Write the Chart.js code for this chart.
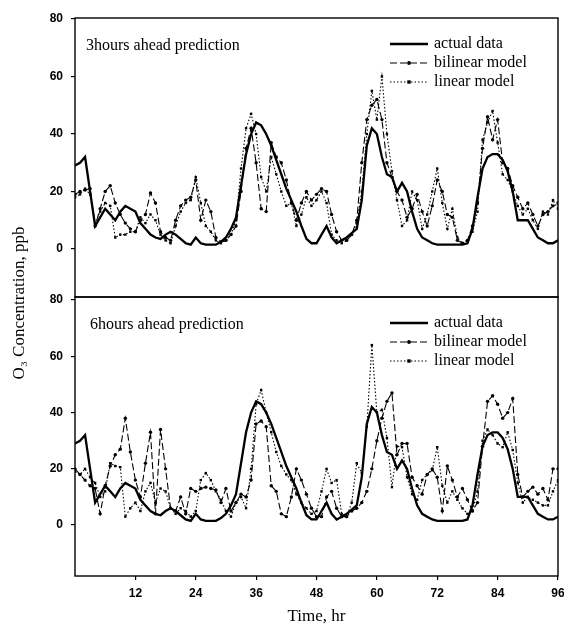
<!DOCTYPE html>
<html>
<head>
<meta charset="utf-8">
<script src="https://cdn.jsdelivr.net/npm/chart.js@4.4.1/dist/chart.umd.min.js"></script>
<style>
  html, body { margin: 0; padding: 0; background: #fff; }
</style>
</head>
<body>
<canvas id="ozone" width="564" height="633"></canvas>
<script>
// hourly x positions, 0..96 h
const hours = Array.from({ length: 97 }, (_, i) => i);
const xTicks = [12, 24, 36, 48, 60, 72, 84, 96];
const yTicks = [0, 20, 40, 60, 80];

const seriesNames = ["actual data", "bilinear model", "linear model"];
const panelTitles = ["3hours ahead prediction", "6hours ahead prediction"];

const actual = [
  29, 30, 32, 20, 8, 11, 14, 12, 10, 13,
  15, 14, 13, 9, 7, 5, 4, 3.5, 5, 6,
  5, 3.5, 2, 1.5, 4, 2, 1.5, 1.5, 1.5, 2.5,
  4, 7, 11, 22, 33, 40, 44, 43, 40, 36,
  31, 26, 21, 17, 13, 8, 3.5, 2, 2, 5,
  8, 4, 2, 3, 4, 5.5, 7, 17, 36, 42,
  40, 32, 26, 25, 20, 23, 20, 13, 7, 4,
  3, 2, 1.5, 1.5, 1.5, 1.5, 1.5, 1.5, 2, 7,
  18, 28, 32, 33, 33, 31, 27, 20, 10, 10,
  10, 7, 4, 3, 2, 2, 3
];

// 3 hours ahead
const bilinear3h = [
  19, 20, 20.5, 21, 8, 14, 20, 22, 16, 12,
  9, 7, 6, 10, 12, 19.5, 16, 6, 4, 3,
  10, 15, 17, 18, 24, 10, 17, 13, 4, 2.5,
  3, 5, 8, 20, 35, 42, 30, 14, 13, 37,
  32, 30, 24, 16, 10, 16, 20, 17, 19, 21,
  20, 12, 6, 3, 3, 5, 10, 30, 45, 50,
  52, 45, 30, 25, 20, 17, 11, 14, 19, 13,
  8, 15, 24, 20, 12, 11, 3, 2, 3, 8,
  16, 35, 46, 38, 45, 30, 28, 22, 18, 14,
  16, 12, 8, 12, 13, 15, 16
];
const linear3h = [
  18, 19, 21, 19, 9, 13, 16, 15, 4, 5,
  5, 6, 6, 11, 9, 12, 10, 5, 3, 2,
  8, 13, 16, 17, 25, 16, 8, 6, 3, 2,
  3, 5, 10, 28, 42, 47, 40, 25, 20, 32,
  26, 20, 15, 16, 8, 12, 18, 15, 17, 20,
  16, 5, 3, 2, 3, 5, 9, 20, 40, 55,
  45, 60, 40, 27, 17, 8, 10, 20, 17, 7,
  12, 20, 28, 16, 7, 14, 4, 2, 3, 6,
  13, 38, 44, 48, 37, 26, 24, 20, 15, 12,
  14, 10, 7, 13, 12, 17, 14
];

// 6 hours ahead
const bilinear6h = [
  20, 18, 16, 14, 13, 4, 14, 21, 25, 27,
  38, 26, 16, 10, 22, 33, 4, 34, 20, 6,
  5, 10, 4, 13, 12, 13, 13.5, 13, 12.5, 8,
  13, 5, 8, 11, 10, 16, 36, 37, 35, 14,
  12, 4, 3, 10, 20, 16, 11, 6, 3, 3,
  10, 12, 6, 3, 3, 5, 6, 8, 12, 20,
  30, 38, 44, 47, 25, 29, 29, 17, 14, 11,
  18, 20, 17, 5, 21, 16, 10, 13, 9, 5,
  8, 28, 44, 46, 43, 38, 40, 45, 18, 10,
  12, 13.5, 11, 13, 9, 20, 20
];
const linear6h = [
  19, 18, 20, 17, 15, 10, 12, 22, 21, 20.6,
  3, 6, 8, 5, 12, 15, 8, 13, 12, 6,
  4, 6, 5, 3, 5, 16, 18.5, 16, 12, 9,
  5, 3, 8, 10, 6, 20, 43, 48, 40, 33,
  26, 21, 18, 16, 11, 8, 6, 4, 5, 12,
  20, 15, 16, 4, 3, 8, 22, 18.5, 35, 64,
  40, 41, 31, 13.5, 28, 27.7, 17, 11, 9, 16,
  18, 19.5, 27.7, 14, 8, 12, 9, 6, 4, 5,
  12, 30, 34, 32, 29, 27.7, 33, 26.7, 15, 8,
  10, 9, 8, 7, 7, 12, 16
];

const styles = [
  { borderWidth: 2.3, borderDash: [], pointRadius: 0, pointStyle: "circle" },
  { borderWidth: 1.1, borderDash: [7, 3], pointRadius: 1.7, pointStyle: "circle" },
  { borderWidth: 1.1, borderDash: [1.5, 2], pointRadius: 1.7, pointStyle: "rect" }
];

function makeSet(values, idx, axis) {
  let st = styles[idx];
  return {
    label: seriesNames[idx],
    data: values,
    yAxisID: axis,
    borderColor: "#000",
    backgroundColor: "#000",
    pointBackgroundColor: "#000",
    pointBorderWidth: 0,
    borderWidth: st.borderWidth,
    borderDash: st.borderDash,
    pointRadius: st.pointRadius,
    pointStyle: st.pointStyle,
    tension: 0
  };
}

const tickFont = { family: "Liberation Sans", size: 12, weight: "bold" };

function yAxis(min, max) {
  return {
    type: "linear",
    position: "left",
    stack: "panels",
    stackWeight: 1,
    min: min,
    max: max,
    afterBuildTicks: (s) => { s.ticks = yTicks.map(v => ({ value: v })); },
    afterFit: (s) => { s.width = 45; },
    grid: { drawOnChartArea: false, tickLength: 4, color: "#000", lineWidth: 1.2 },
    border: { display: false },
    ticks: { color: "#000", font: tickFont, padding: 8 }
  };
}

function drawSample(ctx, x0, x1, y, idx) {
  let st = styles[idx];
  ctx.save();
  ctx.strokeStyle = "#000";
  ctx.fillStyle = "#000";
  ctx.lineWidth = st.borderWidth;
  ctx.setLineDash(st.borderDash);
  ctx.beginPath();
  ctx.moveTo(x0, y);
  ctx.lineTo(x1, y);
  ctx.stroke();
  if (st.pointRadius > 0) {
    let mx = x0 + (x1 - x0) * 0.5;
    if (st.pointStyle === "rect") ctx.fillRect(mx - 1.7, y - 1.7, 3.4, 3.4);
    else { ctx.beginPath(); ctx.arc(mx, y, 1.9, 0, Math.PI * 2); ctx.fill(); }
  }
  ctx.restore();
}

const panelDecor = {
  id: "panelDecor",
  afterDatasetsDraw(chart) {
    let { ctx, chartArea } = chart;
    ctx.save();
    ctx.strokeStyle = "#000";
    ctx.lineWidth = 1.4;
    ["yTop", "yBot"].forEach(id => {
      let s = chart.scales[id];
      ctx.strokeRect(chartArea.left, s.top, chartArea.right - chartArea.left, s.bottom - s.top);
    });
    ctx.restore();
  },
  afterDraw(chart) {
    let { ctx } = chart;
    ctx.save();
    ctx.fillStyle = "#000";
    ctx.textBaseline = "middle";
    ctx.font = "16px 'Liberation Serif'";
    ["yTop", "yBot"].forEach((id, p) => {
      let top = chart.scales[id].top;
      ctx.textAlign = "left";
      ctx.fillText(panelTitles[p], 86 + p * 4, top + 28);
      seriesNames.forEach((name, i) => {
        let y = top + 26 + i * 19;
        drawSample(ctx, 390, 428, y, i);
        ctx.fillText(name, 434, y);
      });
    });
    // shared y title across both panels
    ctx.translate(20, 303);
    ctx.rotate(-Math.PI / 2);
    ctx.textAlign = "center";
    ctx.font = "17px 'Liberation Serif'";
    ctx.fillText("O\u2083 Concentration, ppb", 0, 0);
    ctx.restore();
  }
};

new Chart(document.getElementById("ozone"), {
  type: "line",
  data: {
    labels: hours,
    datasets: [
      makeSet(actual, 0, "yTop"),
      makeSet(bilinear3h, 1, "yTop"),
      makeSet(linear3h, 2, "yTop"),
      makeSet(actual, 0, "yBot"),
      makeSet(bilinear6h, 1, "yBot"),
      makeSet(linear6h, 2, "yBot")
    ]
  },
  options: {
    responsive: false,
    animation: false,
    devicePixelRatio: 1,
    layout: { padding: { left: 30, right: 6, top: 18, bottom: 0 } },
    plugins: { legend: { display: false }, tooltip: { enabled: false } },
    scales: {
      x: {
        type: "linear",
        min: 0,
        max: 96,
        afterBuildTicks: (s) => { s.ticks = xTicks.map(v => ({ value: v })); },
        afterFit: (s) => { s.height = 57; s.paddingRight = 0; s.paddingLeft = 0; },
        grid: { drawOnChartArea: false, tickLength: 4, color: "#000", lineWidth: 1.2 },
        border: { display: false },
        ticks: { color: "#000", font: tickFont, padding: 6, maxRotation: 0 },
        title: {
          display: true,
          text: "Time, hr",
          color: "#000",
          font: { family: "Liberation Serif", size: 17 },
          padding: { top: 4, bottom: 6 }
        }
      },
      yBot: yAxis(-18.1, 81.1),
      yTop: yAxis(-16.7, 80.35)
    }
  },
  plugins: [panelDecor]
});
</script>
</body>
</html>
